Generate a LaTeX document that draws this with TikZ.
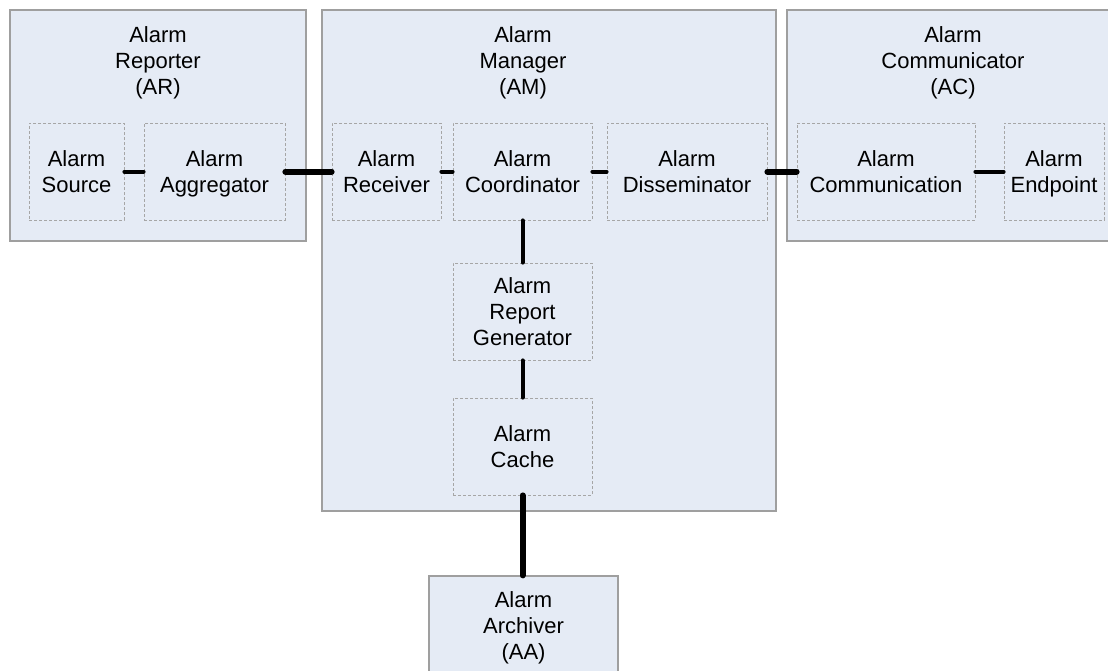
\documentclass[tikz,border=0pt]{standalone}
\usepackage{fontspec}
\setmainfont{Liberation Sans}
\begin{document}
\begin{tikzpicture}[
  x=1pt, y=-1pt,
  font=\fontsize{22}{26}\selectfont,
  box/.style={
    draw=gray!75, line width=1.2pt, fill=paneblue,
    inner sep=0pt,
  },
  lines/.style={align=center, text=black, text depth=0pt},
  title/.style={lines, inner sep=0pt},
  part/.style={
    lines, draw=gray!70, densely dashed, line width=0.8pt,
    minimum height=97, inner sep=0pt,
  },
  link/.style={line width=4pt, line cap=round},
  bus/.style={line width=6pt, line cap=round},
]
\definecolor{paneblue}{HTML}{E5EBF5}

\useasboundingbox (0,0) rectangle (1108,670);
\clip (0,0) rectangle (1108,670);

% containers
\node[box, minimum width=296, minimum height=231] (AR) at (158,125.5) {};
\node[box, minimum width=454, minimum height=501] (AM) at (549,260.5) {};
\node[box, minimum width=333, minimum height=231] (AC) at (953.5,125.5) {};
\node[box, minimum width=189, minimum height=124] (AA) at (523.5,638) {};

% container titles
\node[title] (ARt) at (158,61)   {Alarm\\Reporter\\(AR)};
\node[title] (AMt) at (523,61)   {Alarm\\Manager\\(AM)};
\node[title] (ACt) at (953,61)   {Alarm\\Communicator\\(AC)};
\node[title] (AAt) at (523.5,626) {Alarm\\Archiver\\(AA)};

% reporter parts
\node[part, minimum width=95]  (src) at (76.5,171.5)  {Alarm\\Source};
\node[part, minimum width=141] (agg) at (214.5,171.5) {Alarm\\Aggregator};

% manager parts
\node[part, minimum width=109] (rcv) at (386.5,171.5) {Alarm\\Receiver};
\node[part, minimum width=139] (crd) at (522.5,171.5) {Alarm\\Coordinator};
\node[part, minimum width=160] (dis) at (687,171.5)   {Alarm\\Disseminator};
\node[part, minimum width=139] (rep) at (522.5,311.5) {Alarm\\Report\\Generator};
\node[part, minimum width=139] (cch) at (522.5,446.5) {Alarm\\Cache};

% communicator parts
\node[part, minimum width=178] (com) at (886,171.5)  {Alarm\\Communication};
\node[part, minimum width=100] (ept) at (1054,171.5) {Alarm\\Endpoint};

% links inside a container
\draw[link] (src) -- (agg);
\draw[link] (rcv) -- (crd);
\draw[link] (crd) -- (dis);
\draw[link] (com) -- (ept);
\draw[link] (crd) -- (rep);
\draw[link] (rep) -- (cch);

% links between containers
\draw[bus] (agg) -- (rcv);
\draw[bus] (dis) -- (com);
\draw[bus] (cch.south) -- (cch.south |- AA.north);

\end{tikzpicture}
\end{document}
